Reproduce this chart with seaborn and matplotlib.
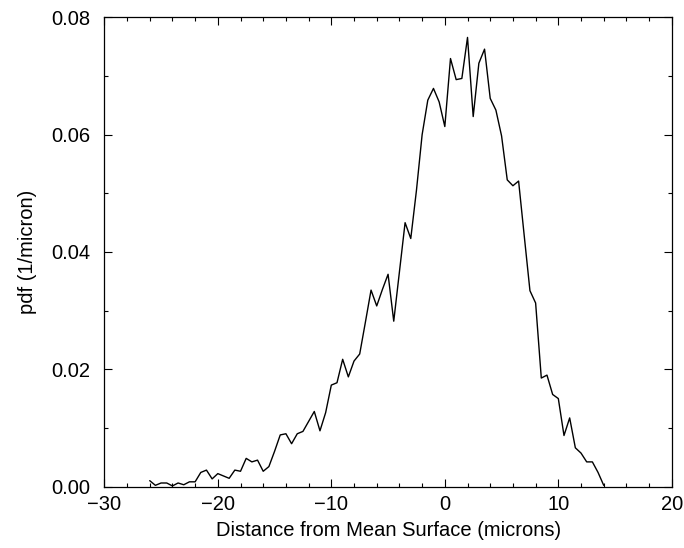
import matplotlib
matplotlib.use("Agg")
import matplotlib.pyplot as plt
from matplotlib.ticker import MultipleLocator, FormatStrFormatter
import seaborn as sns
import pandas as pd

distance = [
    -26.0, -25.5, -25.0, -24.5, -24.0, -23.5, -23.0, -22.5, -22.0, -21.5,
    -21.0, -20.5, -20.0, -19.5, -19.0, -18.5, -18.0, -17.5, -17.0, -16.5,
    -16.0, -15.5, -15.0, -14.5, -14.0, -13.5, -13.0, -12.5, -12.0, -11.5,
    -11.0, -10.5, -10.0, -9.5, -9.0, -8.5, -8.0, -7.5, -7.0, -6.5,
    -6.0, -5.5, -5.0, -4.5, -4.0, -3.5, -3.0, -2.5, -2.0, -1.5,
    -1.0, -0.5, 0.0, 0.5, 1.0, 1.5, 2.0, 2.5, 3.0, 3.5,
    4.0, 4.5, 5.0, 5.5, 6.0, 6.5, 7.0, 7.5, 8.0, 8.5,
    9.0, 9.5, 10.0, 10.5, 11.0, 11.5, 12.0, 12.5, 13.0, 13.5,
    14.0,
]
pdf = [
    0.0010, 0.0002, 0.0006, 0.0006, 0.0001, 0.0006, 0.0003, 0.0008, 0.0008, 0.0024,
    0.0028, 0.0013, 0.0022, 0.0018, 0.0014, 0.0028, 0.0026, 0.0048, 0.0042, 0.0045,
    0.0026, 0.0034, 0.0060, 0.0088, 0.0090, 0.0073, 0.0090, 0.0094, 0.0111, 0.0128,
    0.0095, 0.0126, 0.0173, 0.0177, 0.0217, 0.0187, 0.0214, 0.0226, 0.0280, 0.0335,
    0.0308, 0.0336, 0.0362, 0.0282, 0.0366, 0.0450, 0.0423, 0.0505, 0.0600, 0.0659,
    0.0679, 0.0656, 0.0614, 0.0730, 0.0694, 0.0696, 0.0766, 0.0631, 0.0722, 0.0746,
    0.0662, 0.0642, 0.0598, 0.0523, 0.0513, 0.0521, 0.0427, 0.0334, 0.0313, 0.0185,
    0.0190, 0.0157, 0.0150, 0.0087, 0.0117, 0.0066, 0.0057, 0.0042, 0.0042, 0.0024,
    0.0002,
]

x_ticks = [-30, -20, -10, 0, 10, 20]
y_ticks = [0.00, 0.02, 0.04, 0.06, 0.08]
x_tick_labels = ["\u221230", "\u221220", "\u221210", "0", "10", "20"]
x_label = "Distance from Mean Surface (microns)"
y_label = "pdf (1/micron)"

df = pd.DataFrame({"distance": distance, "pdf": pdf})

sns.set_style("ticks")
plt.rcParams["font.family"] = ["Liberation Sans", "DejaVu Sans"]

fig = plt.figure(figsize=(6.84, 5.48), dpi=100)
ax = fig.add_axes([0.1525, 0.1122, 0.8297, 0.8559])

sns.lineplot(data=df, x="distance", y="pdf", ax=ax, color="black",
             linewidth=1.0, estimator=None, sort=False)

ax.set_xlim(-30, 20)
ax.set_ylim(0, 0.08)
ax.set_xticks(x_ticks)
ax.set_yticks(y_ticks)
ax.xaxis.set_minor_locator(MultipleLocator(2))
ax.yaxis.set_minor_locator(MultipleLocator(0.01))
ax.yaxis.set_major_formatter(FormatStrFormatter("%.2f"))
ax.set_xticklabels(x_tick_labels)

ax.tick_params(which="both", direction="in", top=True, right=True,
               color="black", width=0.8, labelsize=14.5, labelcolor="black")
ax.tick_params(which="major", length=5.5)
ax.tick_params(which="minor", length=2.8)
ax.tick_params(axis="x", which="major", pad=6)
ax.tick_params(axis="y", which="major", pad=10)

for s in ax.spines.values():
    s.set_visible(True)
    s.set_color("black")
    s.set_linewidth(0.9)

ax.set_xlabel(x_label, fontsize=14.5, color="black", labelpad=5)
ax.set_ylabel(y_label, fontsize=14.5, color="black", labelpad=10)

fig.savefig("out.png", dpi=100)
